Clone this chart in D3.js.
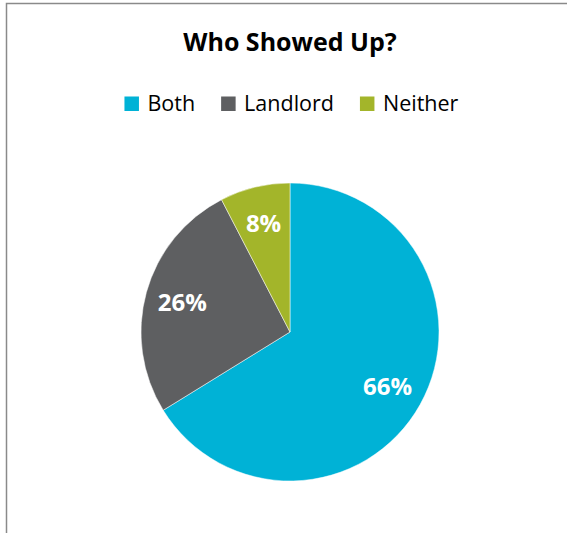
<!DOCTYPE html>
<html>
<head>
<meta charset="utf-8">
<script src="https://cdn.jsdelivr.net/npm/d3@7"></script>
<style>
  html, body { margin: 0; padding: 0; background: #fff; }
  svg { display: block; font-family: "Open Sans", sans-serif; }
</style>
</head>
<body>
<div id="chart"></div>
<script>
// chart data
var categories = ["Both", "Landlord", "Neither"];
var shares = [66.2, 26.2, 7.6];
var colors = ["#00B2D6", "#5E5F61", "#A3B52A"];
var title = "Who Showed Up?";

var width = 567, height = 533;

var svg = d3.select("#chart")
    .append("svg")
    .attr("width", width)
    .attr("height", height);

// chart area frame (runs off the right and bottom of the picture)
svg.append("rect")
    .attr("x", 6.5)
    .attr("y", 3.5)
    .attr("width", 700)
    .attr("height", 700)
    .attr("fill", "#fff")
    .attr("stroke", "#8a8a8a")
    .attr("stroke-width", 1.5);

// title
svg.append("text")
    .attr("x", 290)
    .attr("y", 51)
    .attr("text-anchor", "middle")
    .style("font-size", "25px")
    .style("font-weight", "bold")
    .attr("fill", "#000")
    .text(title);

// legend
var legend = svg.append("g").attr("transform", "translate(0,111)");
var items = legend.selectAll("g")
    .data(categories)
    .enter()
    .append("g");

items.append("rect")
    .attr("x", 0)
    .attr("y", -14.5)
    .attr("width", 14.5)
    .attr("height", 14.5)
    .attr("fill", function (d, i) { return colors[i]; });

items.append("text")
    .attr("x", 23)
    .attr("y", 0)
    .style("font-size", "21.5px")
    .attr("fill", "#000")
    .text(function (d) { return d; });

// lay the legend items out side by side, centred
var gap = 26, pos = 0, offsets = [];
items.each(function () {
    offsets.push(pos);
    pos += this.getBBox().width + gap;
});
var total = pos - gap;
var start = 291.5 - total / 2;
items.attr("transform", function (d, i) {
    return "translate(" + (start + offsets[i]) + ",0)";
});

// pie
var cx = 290, cy = 332, r = 149;
var pie = d3.pie().sort(null).value(function (d) { return d; });
var arc = d3.arc().innerRadius(0).outerRadius(r);
var labelArc = d3.arc().innerRadius(r * 0.75).outerRadius(r * 0.75);

var g = svg.append("g").attr("transform", "translate(" + cx + "," + cy + ")");

var slices = pie(shares);

g.selectAll("path")
    .data(slices)
    .enter()
    .append("path")
    .attr("d", arc)
    .attr("fill", function (d, i) { return colors[i]; })
    .attr("stroke", "#fff")
    .attr("stroke-width", 0.5);

g.selectAll("text")
    .data(slices)
    .enter()
    .append("text")
    .attr("transform", function (d) { return "translate(" + labelArc.centroid(d) + ")"; })
    .attr("text-anchor", "middle")
    .attr("dy", "0.36em")
    .style("font-size", "24px")
    .style("font-weight", "bold")
    .attr("fill", "#fff")
    .text(function (d) { return Math.round(d.data) + "%"; });
</script>
</body>
</html>
